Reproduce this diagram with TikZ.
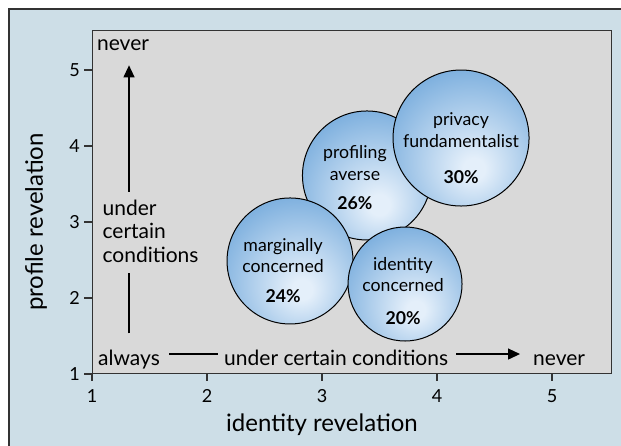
\documentclass[tikz,border=0pt]{standalone}
\usepackage{fontspec}
\setmainfont{Lato}
\usepackage{tikz}
\usetikzlibrary{arrows.meta}
\usetikzlibrary{positioning}

\definecolor{outerbg}{RGB}{205,222,231}
\definecolor{plotbg}{RGB}{217,217,217}
\definecolor{bubin}{RGB}{228,239,250}
\definecolor{bubout}{RGB}{58,134,204}
\definecolor{bubdark}{RGB}{40,108,182}
\pgfdeclareradialshading{bubshade}{\pgfpoint{5bp}{-12bp}}{color(0bp)=(bubin); color(4bp)=(bubin); color(52bp)=(bubout); color(80bp)=(bubdark)}

\begin{document}
\begin{tikzpicture}[x=115pt, y=76pt,
    bubble/.style={circle, draw=black, line width=1pt, shading=bubshade, inner sep=0pt},
    bubtext/.style={align=center, inner sep=0pt, font=\fontsize{17.7}{21.5}\selectfont},
    cornertext/.style={inner sep=0pt, font=\fontsize{21}{23.5}\selectfont},
    ticklabel/.style={inner sep=0pt, font=\fontsize{18}{20}\selectfont},
    axislabel/.style={inner sep=0pt, font=\fontsize{24}{28}\selectfont}]

\useasboundingbox (0.2,0.05263) rectangle (5.6,5.92105);

%\draw[step=1, gray, very thin, dotted] (0,0) grid (6,6);

\fill[outerbg] (0.2783,0.05263) rectangle (5.6,5.8026);
\draw[black!80, line width=1.2pt] (0.2783,0.05263) -- (0.2783,5.8026) -- (5.6,5.8026);

\node at (1,1) [rectangle, draw=black!80, line width=1.2pt, fill=plotbg, inner sep=0pt, minimum width=518.7pt, minimum height=342.8pt, anchor=south west] (plot) {};

\foreach \i in {1,...,5} {
    \draw[black!80, line width=1.2pt] (\i,1) -- ++(0,-7pt);
    \node[ticklabel] (xt\i) at (\i,0.71) {\i};
    \draw[black!80, line width=1.2pt] (1,\i) -- ++(-8pt,0);
    \node[ticklabel, anchor=east] (yt\i) at (0.896,\i) {\i};
}

\node[axislabel] (xlab) at (3,0.33) {identity revelation};
\node[axislabel, rotate=90] (ylab) at (0.513,3) {profile revelation};

% the four groups
\node[bubble, minimum size=129pt] (profiling) at (3.391,3.612) {};
\node[bubble, minimum size=136pt] (privacy) at (4.209,4.105) {};
\node[bubble, minimum size=126pt] (marginal) at (2.722,2.487) {};
\node[bubble, minimum size=114pt] (identity) at (3.722,2.184) {};

\node[bubtext] (profiling-t) at ([xshift=-12pt,yshift=-2.5pt]profiling.center) {profiling\\averse\\[8pt]\textbf{26\%}};
\node[bubtext] (privacy-t) at ([yshift=-10.5pt]privacy.center) {privacy\\fundamentalist\\[15pt]\textbf{30\%}};
\node[bubtext] (marginal-t) at ([xshift=-7pt,yshift=-9.5pt]marginal.center) {marginally\\concerned\\[8pt]\textbf{24\%}};
\node[bubtext] (identity-t) at ([xshift=-2pt,yshift=-7pt]identity.center) {identity\\concerned\\[11pt]\textbf{20\%}};

% axis directions
\node[cornertext, anchor=base west] (always) at (1.052,1.118) {always};
\node[cornertext, anchor=base west] (condx) at (2.148,1.118) {under certain conditions};
\node[cornertext, anchor=base west] (neverx) at (4.835,1.118) {never};
\node[cornertext, anchor=base west] (nevery) at (1.043,5.25) {never};
\node[cornertext, align=left] (condy) at (1.509,2.88) {under\\certain\\conditions};

\draw[black, line width=1.2pt, shorten <=9pt, shorten >=6pt] ([yshift=11pt]always.base east) -- ([yshift=11pt]condx.base west);
\draw[black, line width=1.2pt, -{Triangle[length=12pt,width=11pt]}, shorten <=8pt, shorten >=13pt] ([yshift=11pt]condx.base east) -- ([yshift=11pt]neverx.base west);
\draw[black, line width=1.2pt, shorten <=16pt, shorten >=10pt] (always.north) -- (always.north |- condy.south);
\draw[black, line width=1.2pt, -{Triangle[length=12pt,width=11pt]}, shorten <=8pt, shorten >=14pt] (always.north |- condy.north) -- (always.north |- nevery.south);

\end{tikzpicture}
\end{document}
